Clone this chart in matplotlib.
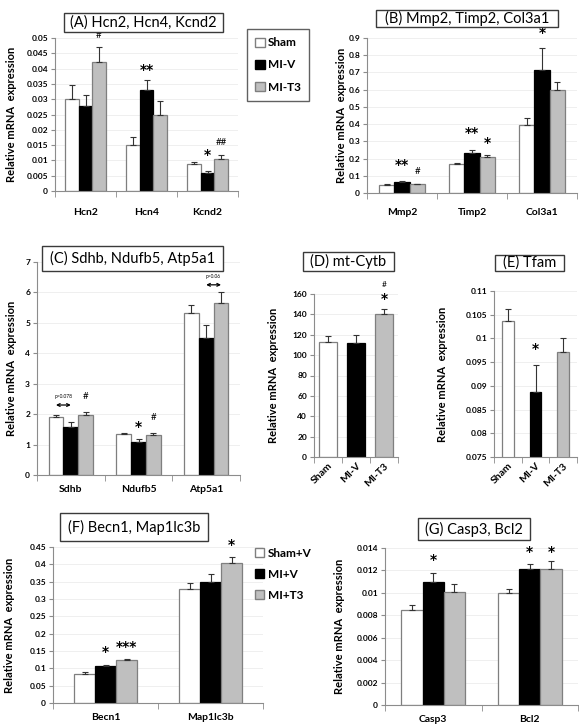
import numpy as np
import matplotlib.pyplot as plt
from matplotlib.patches import Rectangle, Patch
from matplotlib.ticker import FuncFormatter

plt.rcParams['font.family'] = ['Lato', 'DejaVu Sans']

W, H = 579, 726

groups_3 = ["Sham", "MI-V", "MI-T3"]
groups_f = ["Sham+V", "MI+V", "MI+T3"]

# (A)
genes_a = ["Hcn2", "Hcn4", "Kcnd2"]
mean_a = [[0.0302, 0.0149, 0.0088], [0.0278, 0.0330, 0.0058], [0.0422, 0.0250, 0.0106]]
err_a = [[0.0045, 0.0029, 0.0006], [0.0035, 0.0032, 0.0008], [0.0050, 0.0044, 0.0011]]
ann_a = [(0, 2, "#", 0.0507), (1, 1, "**", 0.0395), (2, 1, "*", 0.0118), (2, 2, "##", 0.0160)]

# (B)
genes_b = ["Mmp2", "Timp2", "Col3a1"]
mean_b = [[0.048, 0.170, 0.393], [0.063, 0.232, 0.717], [0.052, 0.207, 0.600]]
err_b = [[0.004, 0.007, 0.040], [0.009, 0.015, 0.123], [0.003, 0.013, 0.045]]
ann_b = [(0, 1, "**", 0.163), (0, 2, "#", 0.122), (1, 1, "**", 0.348), (1, 2, "*", 0.29), (2, 1, "*", 0.93)]

# (C)
genes_c = ["Sdhb", "Ndufb5", "Atp5a1"]
mean_c = [[1.92, 1.36, 5.33], [1.58, 1.07, 4.50], [1.98, 1.31, 5.65]]
err_c = [[0.06, 0.03, 0.27], [0.15, 0.11, 0.43], [0.08, 0.07, 0.35]]
ann_c = [(0, 2, "#", 2.57), (1, 1, "*", 1.58), (1, 2, "#", 1.90)]

# (D) and (E)
mean_d = [113, 112, 140]
err_d = [6, 8, 5]
mean_e = [0.1037, 0.0888, 0.0972]
err_e = [0.0026, 0.0055, 0.0028]

# (F)
genes_f = ["Becn1", "Map1lc3b"]
mean_f = [[0.085, 0.328], [0.106, 0.348], [0.123, 0.403]]
err_f = [[0.005, 0.017], [0.005, 0.025], [0.005, 0.017]]
ann_f = [(0, 1, "*", 0.147), (0, 2, "***", 0.161), (1, 2, "*", 0.456)]

# (G)
genes_g = ["Casp3", "Bcl2"]
mean_g = [[0.0085, 0.0100], [0.0110, 0.0121], [0.0101, 0.0121]]
err_g = [[0.0004, 0.0003], [0.0008, 0.0005], [0.0007, 0.0007]]
ann_g = [(0, 1, "*", 0.0129), (1, 1, "*", 0.0136), (1, 2, "*", 0.0136)]

fill = ["white", "black", "#bfbfbf"]
edge = ["#7f7f7f", "black", "#7f7f7f"]
axis_grey = "#8c8c8c"


def px_rect(l, t, r, b):
    return [l / W, 1 - b / H, (r - l) / W, (b - t) / H]


def title_box(fig, l, t, r, b, text):
    fig.patches.append(Rectangle((l / W, 1 - b / H), (r - l) / W, (b - t) / H, transform=fig.transFigure,
                                 facecolor="white", edgecolor="#3a3a3a", lw=1.0))
    fig.text((l + r) / 2 / W, 1 - (t + b) / 2 / H, text, ha="center", va="center", fontsize=10.5)


def mark(ax, x, y, txt, fs=None):
    # stars drawn with DejaVu so they look like the big bold excel asterisks
    if "*" in txt:
        ax.text(x, y, txt, ha="center", va="center", fontsize=fs or 10, fontweight="bold",
                family="DejaVu Sans", clip_on=False)
    else:
        ax.text(x, y, txt, ha="center", va="center", fontsize=fs or 7, clip_on=False)


def style_axes(ax, ylim, step, ncat, ylabel_px, xpad=7):
    ax.set_ylim(*ylim)
    ax.set_xlim(-0.5, ncat - 0.5)
    ax.set_yticks(np.arange(ylim[0], ylim[1] + step / 2, step))
    ax.yaxis.set_major_formatter(FuncFormatter(lambda v, p: f"{round(v, 6):g}"))
    for s in ["top", "right"]:
        ax.spines[s].set_visible(False)
    for s in ["left", "bottom"]:
        ax.spines[s].set_color(axis_grey)
    ax.tick_params(axis="y", length=3, color=axis_grey, labelsize=6, pad=2)
    ax.tick_params(axis="x", which="major", length=0, labelsize=7.5, pad=xpad)
    ax.set_xticks(np.arange(-0.5, ncat, 1), minor=True)
    ax.tick_params(axis="x", which="minor", length=4, color=axis_grey)
    for lab in ax.get_yticklabels() + ax.get_xticklabels():
        lab.set_fontweight("bold")
    ax.grid(axis="y", color="#ececec", lw=0.6)
    ax.set_axisbelow(True)
    ax.set_ylabel("Relative mRNA  expression", fontsize=8, fontweight="bold")
    pos = ax.get_position()
    ax.yaxis.set_label_coords((ylabel_px / W - pos.x0) / pos.width, 0.5)


def grouped(ax, genes, means, errs, anns, width=0.22):
    x = np.arange(len(genes))
    for i in range(3):
        xi = x + (i - 1) * width
        ax.bar(xi, means[i], width, color=fill[i], edgecolor=edge[i], lw=0.9, zorder=2)
        ax.errorbar(xi, means[i], yerr=[np.zeros(len(genes)), errs[i]], fmt="none",
                    ecolor="#333333", elinewidth=0.8, capsize=2.5, capthick=0.8, zorder=3)
    ax.set_xticks(x)
    ax.set_xticklabels(genes)
    for g, s, txt, y in anns:
        mark(ax, x[g] + (s - 1) * width, y, txt)


def single(ax, means, errs, width):
    x = np.arange(3)
    for i in range(3):
        ax.bar(x[i], means[i], width, color=fill[i], edgecolor=edge[i], lw=0.9, zorder=2)
        ax.errorbar(x[i], means[i], yerr=[[0], [errs[i]]], fmt="none", ecolor="#333333",
                    elinewidth=0.8, capsize=2.5, capthick=0.8, zorder=3)
    ax.set_xticks(x)
    ax.set_xticklabels(groups_3, rotation=45, ha="right", rotation_mode="anchor", fontsize=7.5)


fig = plt.figure(figsize=(W / 100, H / 100), dpi=100)

# A
ax = fig.add_axes(px_rect(55, 38, 238, 191))
grouped(ax, genes_a, mean_a, err_a, ann_a)
style_axes(ax, (0, 0.05), 0.005, 3, 17, xpad=12)
title_box(fig, 64, 13, 223, 32, "(A) Hcn2, Hcn4, Kcnd2")

# B
ax = fig.add_axes(px_rect(367, 38, 577, 193))
grouped(ax, genes_b, mean_b, err_b, ann_b)
style_axes(ax, (0, 0.9), 0.1, 3, 347, xpad=11)
title_box(fig, 376, 10, 558, 27, "(B) Mmp2, Timp2, Col3a1")

# legend for A/B
handles = [Patch(facecolor=fill[i], edgecolor=edge[i] if i != 1 else "black") for i in range(3)]
fig.legend(handles, groups_3, loc="upper left", bbox_to_anchor=(247 / W, 1 - 29 / H), frameon=True,
           fancybox=False, edgecolor="#3a3a3a", handlelength=0.8, handleheight=0.8, handletextpad=0.3,
           labelspacing=0.95, borderpad=0.7, borderaxespad=0, prop={"weight": "bold", "size": 8.5})

# C
ax = fig.add_axes(px_rect(37, 262, 240, 475))
grouped(ax, genes_c, mean_c, err_c, ann_c)
style_axes(ax, (0, 7), 1, 3, 17)
title_box(fig, 42, 246, 223, 271, "(C) Sdhb, Ndufb5, Atp5a1")
for g, a, b, y, lab in [(0, 0, 1, 2.3, "p=0.078"), (2, 1, 2, 6.25, "p=0.06")]:
    xa, xb = g + (a - 1) * 0.22, g + (b - 1) * 0.22
    ax.annotate("", xy=(xa, y), xytext=(xb, y),
                arrowprops=dict(arrowstyle="<->", lw=0.9, color="black", shrinkA=0, shrinkB=0,
                                mutation_scale=5))
    ax.text((xa + xb) / 2, y + 0.28, lab, ha="center", va="center", fontsize=3.5)

# D
ax = fig.add_axes(px_rect(314, 294, 398, 457))
single(ax, mean_d, err_d, 0.63)
style_axes(ax, (0, 160), 20, 3, 279)
ax.tick_params(axis="x", which="major", pad=3)
mark(ax, 2, 155, "*")
mark(ax, 2, 169, "#", fs=6)
title_box(fig, 303, 252, 394, 271, "(D) mt-Cytb")

# E
ax = fig.add_axes(px_rect(494, 291, 577, 457))
single(ax, mean_e, err_e, 0.42)
style_axes(ax, (0.075, 0.11), 0.005, 3, 448)
ax.tick_params(axis="x", which="major", pad=3)
mark(ax, 1, 0.0978, "*")
title_box(fig, 495, 255, 564, 271, "(E) Tfam")

# F
ax = fig.add_axes(px_rect(53, 547, 263, 703))
grouped(ax, genes_f, mean_f, err_f, ann_f, width=0.2)
style_axes(ax, (0, 0.45), 0.05, 2, 15)
title_box(fig, 60, 513, 208, 541, "(F) Becn1, Map1lc3b")
fig.legend(handles, groups_f, loc="upper left", bbox_to_anchor=(250 / W, 1 - 543 / H), frameon=False,
           handlelength=0.8, handleheight=0.8, handletextpad=0.3, labelspacing=0.85, borderaxespad=0,
           prop={"weight": "bold", "size": 8.5})

# G
ax = fig.add_axes(px_rect(385, 548, 578, 705))
grouped(ax, genes_g, mean_g, err_g, ann_g)
style_axes(ax, (0, 0.014), 0.002, 2, 345)
title_box(fig, 418, 518, 530, 540, "(G) Casp3, Bcl2")

fig.savefig("out.png", dpi=100)
